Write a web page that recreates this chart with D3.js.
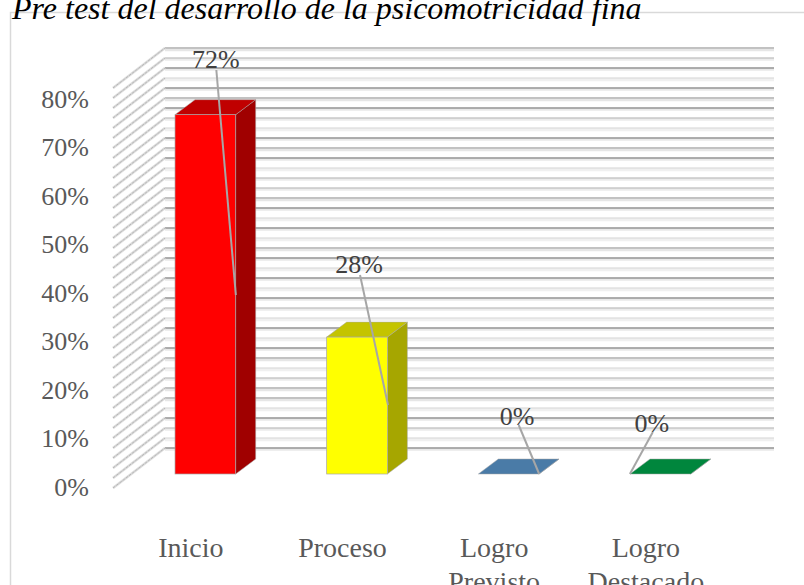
<!DOCTYPE html>
<html>
<head>
<meta charset="utf-8">
<script src="https://cdn.jsdelivr.net/npm/d3@7"></script>
<style>
html, body { margin: 0; padding: 0; background: #fff; overflow: hidden; }
text { font-family: "Liberation Serif", serif; }
</style>
</head>
<body>
<div id="chart"></div>
<script>
var chartTitle = "Pre test del desarrollo de la psicomotricidad fina";
var categories = ["Inicio", "Proceso", "Logro Previsto", "Logro Destacado"];
var values = [72.41, 27.59, 0, 0];
var valueLabels = ["72%", "28%", "0%", "0%"];
var frontColors = ["#ff0000", "#ffff00", "#4a7ba7", "#00863d"];
var topColors = ["#c00000", "#c4c400", "#4a7ba7", "#00863d"];
var sideColors = ["#a00000", "#a6a600", "#3a6285", "#006a30"];
var axisTicks = [0, 10, 20, 30, 40, 50, 60, 70, 80];
var gridTicks = d3.range(0, 81, 2);

// how heavy each gridline looks, from the 80 line down to the 0 line
var gridWeights = "tmdldtdmldtdlmmtdldltdldldmldldtlmttldmld".split("");
var gridStyles = {
    d: { line: "#939393", width: 1.3, band: "#e8e8e8", bandWidth: 2.5 },
    m: { line: "#adadad", width: 1.1, band: "#ebebeb", bandWidth: 2.5 },
    l: { line: "#d6d6d6", width: 1, band: "#f0f0f0", bandWidth: 3.5 },
    t: { line: "#c2c2c2", width: 2.2, band: "#e6e6e6", bandWidth: 3.5 }
};

var svgWidth = 804, svgHeight = 585;
var depthX = 20, depthY = 15;
var wallDepthX = 52, wallDepthY = 40;

// where each data label sits and where its leader line ends, relative to the bar
var labelOffsets = [
    { dx: 10.5, y: 60, lx: 11, ly: 70, ex: 30.5, ey: 295 },
    { dx: 2, y: 265, lx: 3, ly: 275, ex: 31, ey: 405 },
    { dx: 8.5, y: 417, lx: 10, ly: 425, ex: 30.5, ey: 474 },
    { dx: -8.5, y: 424, lx: -7.5, ly: 432, ex: -30.5, ey: 474 }
];

var svg = d3.select("#chart").append("svg")
    .attr("width", svgWidth)
    .attr("height", svgHeight)
    .style("display", "block");

// chart frame, runs off the picture on the right and bottom
svg.append("path")
    .attr("d", "M10.5," + svgHeight + "V12.5H" + svgWidth)
    .attr("fill", "none")
    .attr("stroke", "#d9d9d9")
    .attr("stroke-width", 1.5);

svg.append("text")
    .attr("x", 12)
    .attr("y", 19)
    .attr("font-size", 32)
    .attr("font-style", "italic")
    .attr("fill", "#000")
    .text(chartTitle);

var x = d3.scaleBand().domain(categories).range([129.5, 736.2]).paddingInner(0.6).paddingOuter(0.3);
var y = d3.scaleLinear().domain([0, 80]).range([474, 77]);
var wallY = d3.scaleLinear().domain([0, 80]).range([448, 48]);
var labelY = d3.scaleLinear().domain([0, 80]).range([487, 99]);

var wallLeft = 165, wallRight = 774;

// back wall and side wall gridlines, light band first then the darker line
var grid = svg.append("g").attr("fill", "none");
gridTicks.forEach(function (t) {
    var yy = wallY(t);
    var style = gridStyles[gridWeights[40 - t / 2]];
    grid.append("path")
        .attr("d", "M" + wallLeft + "," + (yy + 1.5) + "H" + wallRight)
        .attr("stroke", style.band)
        .attr("stroke-width", style.bandWidth);
    grid.append("path")
        .attr("d", "M" + wallLeft + "," + yy + "H" + wallRight)
        .attr("stroke", style.line)
        .attr("stroke-width", style.width);
    grid.append("path")
        .attr("d", "M" + (wallLeft - wallDepthX) + "," + (yy + wallDepthY) + "L" + wallLeft + "," + yy)
        .attr("stroke", "#dcdcdc")
        .attr("stroke-width", 2.6);
    grid.append("path")
        .attr("d", "M" + (wallLeft - wallDepthX) + "," + (yy + wallDepthY) + "L" + wallLeft + "," + yy)
        .attr("stroke", "#a6a6a6")
        .attr("stroke-width", 0.7)
        .attr("stroke-dasharray", "3 1");
});

// y axis labels
var yAxis = svg.append("g")
    .attr("transform", "translate(89,0)")
    .call(d3.axisLeft(labelY).tickValues(axisTicks).tickSize(0).tickPadding(0).tickFormat(function (d) { return d + "%"; }));
yAxis.select(".domain").remove();
yAxis.selectAll("text")
    .attr("font-family", "Liberation Serif")
    .attr("font-size", 26)
    .attr("fill", "#595959");

// 3d bars
var bars = svg.selectAll(".bar")
    .data(categories)
    .enter().append("g")
    .attr("class", "bar");

var bw = x.bandwidth();

bars.append("path")
    .attr("d", function (d, i) {
        var l = x(d), t = y(values[i]);
        return "M" + (l + bw) + "," + t + "l" + depthX + "," + (-depthY) + "V" + (y(0) - depthY) + "l" + (-depthX) + "," + depthY + "Z";
    })
    .attr("fill", function (d, i) { return sideColors[i]; })
    .attr("stroke", "#a6a6a6")
    .attr("stroke-width", 0.5);

bars.append("path")
    .attr("d", function (d, i) {
        var l = x(d), t = y(values[i]);
        return "M" + l + "," + t + "l" + depthX + "," + (-depthY) + "h" + bw + "l" + (-depthX) + "," + depthY + "Z";
    })
    .attr("fill", function (d, i) { return topColors[i]; })
    .attr("stroke", "#a6a6a6")
    .attr("stroke-width", 0.5);

bars.append("rect")
    .attr("x", function (d) { return x(d); })
    .attr("y", function (d, i) { return y(values[i]); })
    .attr("width", bw)
    .attr("height", function (d, i) { return y(0) - y(values[i]); })
    .attr("fill", function (d, i) { return frontColors[i]; })
    .attr("stroke", "#a6a6a6")
    .attr("stroke-width", 0.7);

// data labels with leader lines
var labels = svg.selectAll(".value-label")
    .data(categories)
    .enter().append("g")
    .attr("class", "value-label");

labels.append("line")
    .attr("x1", function (d, i) { return x(d) + bw / 2 + labelOffsets[i].lx; })
    .attr("y1", function (d, i) { return labelOffsets[i].ly; })
    .attr("x2", function (d, i) { return x(d) + bw / 2 + labelOffsets[i].ex; })
    .attr("y2", function (d, i) { return labelOffsets[i].ey; })
    .attr("stroke", "#a6a6a6")
    .attr("stroke-width", 2);

labels.append("text")
    .attr("x", function (d, i) { return x(d) + bw / 2 + labelOffsets[i].dx; })
    .attr("y", function (d, i) { return labelOffsets[i].y; })
    .attr("dy", "0.32em")
    .attr("text-anchor", "middle")
    .attr("font-size", 26)
    .attr("fill", "#404040")
    .text(function (d, i) { return valueLabels[i]; });

// category labels, wrapped on the space
var catLabels = svg.selectAll(".cat-label")
    .data(categories)
    .enter().append("text")
    .attr("class", "cat-label")
    .attr("text-anchor", "middle")
    .attr("font-size", 28)
    .attr("fill", "#595959");

catLabels.each(function (d) {
    var cx = x(d) + bw / 2 - 14.5;
    d3.select(this).selectAll("tspan")
        .data(d.split(" "))
        .enter().append("tspan")
        .attr("x", cx)
        .attr("y", function (w, j) { return 557 + j * 34; })
        .text(function (w) { return w; });
});
</script>
</body>
</html>
